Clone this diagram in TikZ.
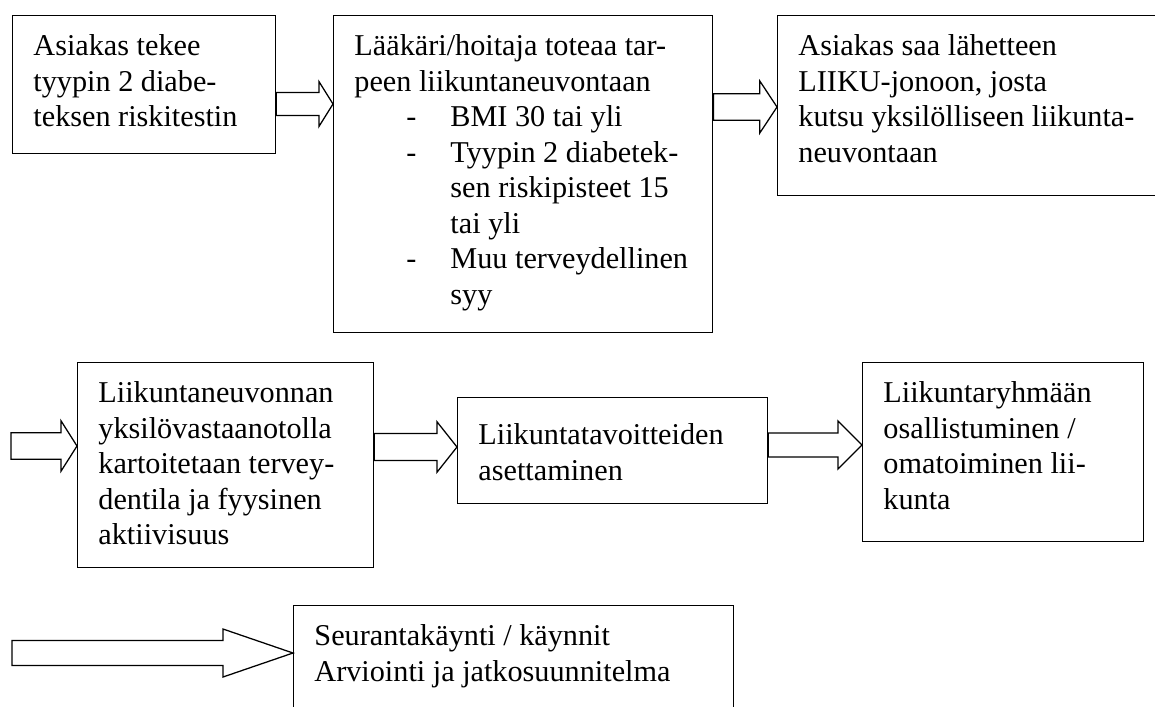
\documentclass[tikz,border=0pt]{standalone}
\usepackage{fontspec}
\setmainfont{Liberation Serif}
\usetikzlibrary{calc}

\newcommand{\sisalto}[3]{\parbox[t][#2][t]{#1}{\begin{tabular}[t]{@{}l@{}}#3\end{tabular}}}
\newcommand{\kohta}[1]{\hspace*{1.3cm}\makebox[1.1cm][l]{-}#1}
\newcommand{\jatko}[1]{\hspace*{2.4cm}#1}
% alku, karki, varren puolileveys, karjen puolileveys, karjen pituus
\newcommand{\paksunuoli}[5]{%
  \draw[nuoli] let \p1=(#1), \p2=(#2) in
    (\x1,\y1+#3) -- (\x2-#5,\y1+#3) -- (\x2-#5,\y1+#4) -- (\x2,\y1)
    -- (\x2-#5,\y1-#4) -- (\x2-#5,\y1-#3) -- (\x1,\y1-#3) -- cycle;}

\begin{document}
\begin{tikzpicture}[x=0.025cm, y=-0.025cm, line width=0.9pt,
  laatikko/.style={draw, rectangle, anchor=north west, inner xsep=0.52cm,
    inner ysep=0.38cm, font=\fontsize{21.5}{25.25}\selectfont},
  nuoli/.style={draw, line join=miter}]
  \useasboundingbox (0,0) rectangle (1155,706);
  \clip (0,0) rectangle (1155,706);

  % ylarivi
  \node[laatikko] (riskitesti) at (12,15) {\sisalto{5.535cm}{2.69cm}{Asiakas tekee\\
    tyypin 2 diabe-\\ teksen riskitestin}};
  \node[laatikko] (tarve) at (333,15) {\sisalto{8.435cm}{7.165cm}{Lääkäri/hoitaja toteaa tar-\\
    peen liikuntaneuvontaan\\ \kohta{BMI 30 tai yli}\\ \kohta{Tyypin 2 diabetek-}\\
    \jatko{sen riskipisteet 15}\\ \jatko{tai yli}\\ \kohta{Muu terveydellinen}\\ \jatko{syy}}};
  \node[laatikko] (lahete) at (777,15) {\sisalto{9.035cm}{3.74cm}{Asiakas saa lähetteen\\
    LIIKU-jonoon, josta\\ kutsu yksilölliseen liikunta-\\ neuvontaan}};

  % keskirivi
  \node[laatikko] (vastaanotto) at (77,362) {\sisalto{6.36cm}{4.365cm}{Liikuntaneuvonnan\\
    yksilövastaanotolla\\ kartoitetaan tervey-\\ dentila ja fyysinen\\ aktiivisuus}};
  \node[laatikko] (tavoitteet) at (457,397) {\sisalto{6.71cm}{1.89cm}{\rule{0pt}{0.8cm}Liikuntatavoitteiden\\
    asettaminen}};
  \node[laatikko] (ryhma) at (862,362) {\sisalto{5.985cm}{3.715cm}{Liikuntaryhmään\\
    osallistuminen /\\ omatoiminen lii-\\ kunta}};

  % alarivi
  \node[laatikko] (seuranta) at (293,605) {\sisalto{9.96cm}{2.49cm}{Seurantakäynti / käynnit\\
    Arviointi ja jatkosuunnitelma}};

  \coordinate (alku3) at (11,446);
  \coordinate (alku6) at (12,653);

  \paksunuoli{riskitesti.east |- 0,104}{tarve.west |- 0,104}{0.29cm}{0.56cm}{0.35cm}
  \paksunuoli{tarve.east |- 0,107}{lahete.west |- 0,107}{0.33cm}{0.65cm}{0.43cm}
  \paksunuoli{alku3}{vastaanotto.west |- alku3}{0.33cm}{0.63cm}{0.40cm}
  \paksunuoli{vastaanotto.east |- 0,447}{tavoitteet.west |- 0,447}{0.34cm}{0.63cm}{0.50cm}
  \paksunuoli{tavoitteet.east |- 0,445}{ryhma.west |- 0,445}{0.30cm}{0.60cm}{0.60cm}
  \paksunuoli{alku6}{seuranta.west |- alku6}{0.31cm}{0.60cm}{1.75cm}
\end{tikzpicture}
\end{document}
